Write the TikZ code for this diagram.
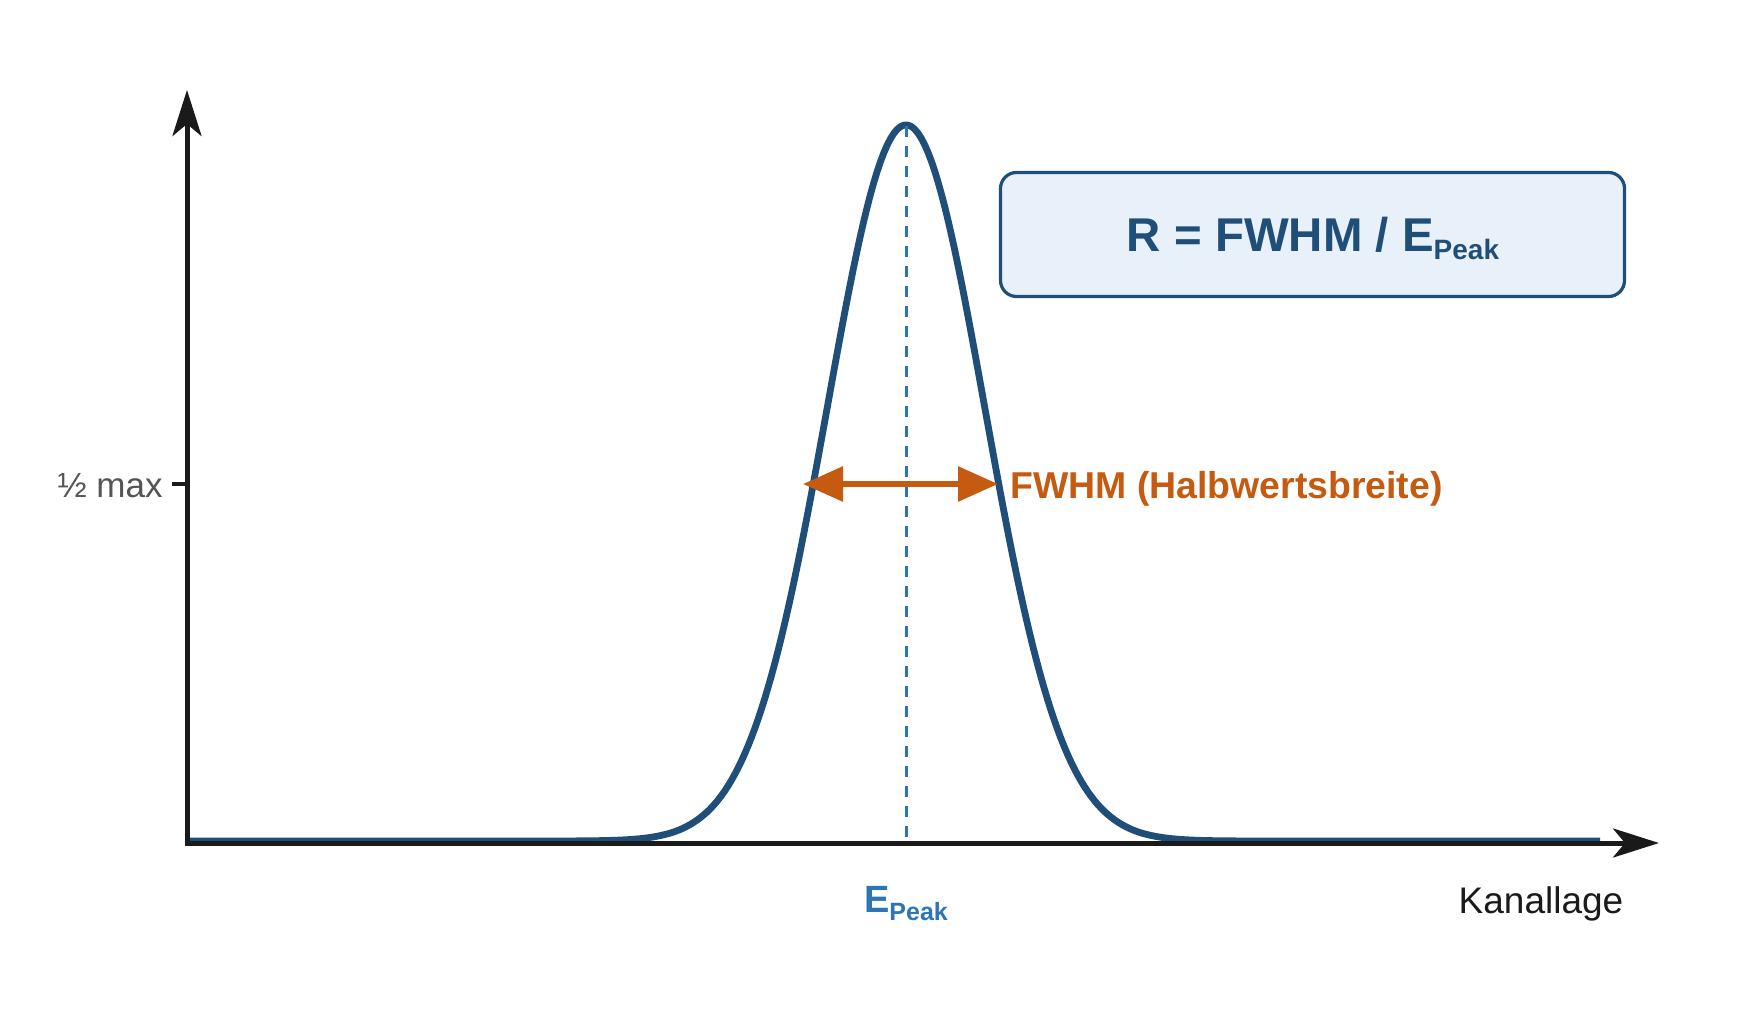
\documentclass[tikz,border=0pt]{standalone}
\usepackage{fontspec}
\setmainfont{Liberation Sans}
\usetikzlibrary{arrows.meta}
\definecolor{curveblue}{RGB}{31,78,121}
\definecolor{dashblue}{RGB}{46,117,182}
\definecolor{boxfill}{RGB}{232,241,249}
\definecolor{fwhmorange}{RGB}{197,90,17}
\definecolor{axisblack}{RGB}{26,26,26}
\definecolor{labelgray}{RGB}{85,85,85}
\tikzset{
  axisline/.style={line width=2.5pt, draw=axisblack, -{Stealth[length=23pt,width=14.5pt,inset=6pt]}},
  curveline/.style={line width=3.4pt, draw=curveblue, line join=round},
  peakdash/.style={line width=1.5pt, draw=dashblue, dash pattern=on 5.5pt off 4.5pt},
  fwhmarrow/.style={line width=3pt, draw=fwhmorange, {Triangle[length=20pt,width=17pt]}-{Triangle[length=20pt,width=17pt]}},
  formulabox/.style={draw=curveblue, line width=1.6pt, fill=boxfill, rounded corners=8pt, minimum width=312pt, minimum height=62pt},
  axislabel/.style={font=\fontsize{18.5}{20}\selectfont, text=axisblack, inner sep=0pt},
}
\begin{document}
\begin{tikzpicture}[x=0.5pt,y=-0.5pt]
\useasboundingbox (0,0) rectangle (1750,1031);
% coordinates
\coordinate (origin) at (187,843);
\coordinate (ytip) at (187,90);
\coordinate (xtip) at (1659,843);
\coordinate (peak) at (906,126);
\coordinate (base) at (906,843);
\coordinate (fl) at (803,484);
\coordinate (fr) at (998,484);
\coordinate (tickl) at (172,484);
\coordinate (tickr) at (187,484);
% curve
\draw[curveline] (190,841) -- (500,841)
  -- plot[domain=500:1312, samples=240] (\x, {841 - 716*exp(-0.5*((\x-906)/78.6)^2)})
  -- (1600,841);
% dashed peak line
\draw[peakdash] (peak) -- (base);
% axes
\draw[axisline] ([yshift=-1.25pt]origin) -- (ytip);
\draw[axisline] ([xshift=-1.25pt]origin) -- (xtip);
% tick
\draw[line width=2pt, draw=axisblack] (tickl) -- (tickr);
\node[anchor=east, inner sep=0pt, text=labelgray, font=\fontsize{17.5}{20}\selectfont] (half) at (163,486) {½ max};
% FWHM arrow
\draw[fwhmarrow] (fl) -- (fr);
\node[anchor=west, inner sep=0pt, text=fwhmorange, font=\bfseries\fontsize{18.7}{20}\selectfont] (fwhmlabel) at (1010,489) {FWHM (Halbwertsbreite)};
% formula box
\node[formulabox] (box) at (1312.5,234.5) {};
\node[anchor=base, inner sep=0pt, text=curveblue, font=\bfseries\fontsize{23.7}{26}\selectfont] (formula) at (1313,252) {R = FWHM / E\raisebox{-4pt}{\fontsize{14}{16}\selectfont Peak}};
% E_Peak label
\node[anchor=base, inner sep=0pt, text=dashblue, font=\bfseries\fontsize{19}{21}\selectfont] (epeak) at (906,912) {E\raisebox{-4pt}{\fontsize{12.5}{14}\selectfont Peak}};
% Kanallage
\node[axislabel] (kanal) at (1541,904) {Kanallage};
\end{tikzpicture}
\end{document}
